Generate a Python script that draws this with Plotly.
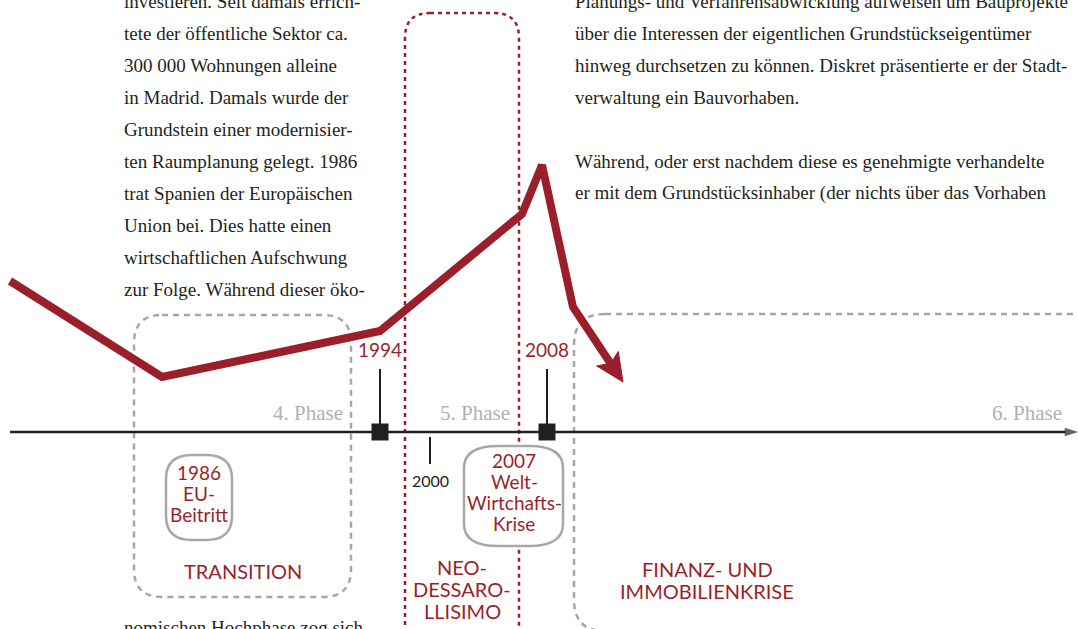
import math
import plotly.graph_objects as go

W, H = 1078, 629
RED = "#9b1f2a"
GREY = "#a7a7a9"
INK = "#231f20"
SERIF = "Liberation Serif"
SANS = "Lato"

# ---------------- data (page-like coordinates, y grows downward) ----------------
trend_x = [10, 162, 380, 522, 542, 573, 623]
trend_y = [281, 377, 331, 214, 165, 307, 382]
arrow_len = 28
arrow_half_width = 13

timeline_x = [10, 1078]
timeline_y = [432, 432]

event_years = ["1994", "2008"]
event_x = [380, 547]
event_label_y = [349, 349]
event_stem_top = [369, 369]

minor_years = ["2000"]
minor_x = [430]
minor_tick = [437, 464]
minor_label_y = [480]

phase_labels = ["4. Phase", "5. Phase", "6. Phase"]
phase_label_right = [345, 512, 1064]
phase_label_y = [413, 413, 413]

# dashed phase frames: x0, y0, x1, y1, radius
grey_frames = [(134, 315, 351, 597, 28), (574, 314, 1120, 631, 31)]
red_frame = (405, 13, 519, 720, 25)
pills = [(166, 455, 232, 540, 26, 24), (464, 446, 563, 546, 34, 22)]

pill_lines = [["1986", "EU-", "Beitritt"], ["2007", "Welt-", "Wirtchafts-", "Krise"]]
pill_text_x = [199, 514]
pill_first_y = [472, 460]
pill_spacing = 21.3

era_lines = [["TRANSITION"], ["NEO-", "DESSARO-", "LLISIMO"], ["FINANZ- UND", "IMMOBILIENKRISE"]]
era_x = [243, 462, 707]
era_first_y = [571, 567, 569]
era_spacing = 22

left_lines = [
    "investieren. Seit damals errich-",
    "tete der öffentliche Sektor ca.",
    "300 000 Wohnungen alleine",
    "in Madrid. Damals wurde der",
    "Grundstein einer modernisier-",
    "ten Raumplanung gelegt. 1986",
    "trat Spanien der Europäischen",
    "Union bei. Dies hatte einen",
    "wirtschaftlichen Aufschwung",
    "zur Folge. Während dieser öko-",
]
left_x = 122
left_y = [1, 33, 65, 97, 129, 161, 193, 225, 257, 289]
left_bottom_line = "nomischen Hochphase zog sich"
left_bottom_top = 615

right_lines = [
    "Planungs- und Verfahrensabwicklung aufweisen um Bauprojekte",
    "über die Interessen der eigentlichen Grundstückseigentümer",
    "hinweg durchsetzen zu können. Diskret präsentierte er der Stadt-",
    "verwaltung ein Bauvorhaben.",
    "Während, oder erst nachdem diese es genehmigte verhandelte",
    "er mit dem Grundstücksinhaber (der nichts über das Vorhaben",
]
right_x = 573
right_y = [1, 33, 65, 97, 161, 193]


def rrect(x0, y0, x1, y1, rx, ry=None):
    ry = rx if ry is None else ry
    return (f"M{x0+rx},{y0} L{x1-rx},{y0} Q{x1},{y0} {x1},{y0+ry} "
            f"L{x1},{y1-ry} Q{x1},{y1} {x1-rx},{y1} L{x0+rx},{y1} "
            f"Q{x0},{y1} {x0},{y1-ry} L{x0},{y0+ry} Q{x0},{y0} {x0+rx},{y0} Z")


fig = go.Figure()

shapes = []
for (x0, y0, x1, y1, r) in grey_frames:
    shapes.append(dict(type="path", path=rrect(x0, y0, x1, y1, r), xref="x", yref="y",
                       line=dict(color=GREY, width=2.5, dash="6px,5px"), layer="below"))
x0, y0, x1, y1, r = red_frame
shapes.append(dict(type="path", path=rrect(x0, y0, x1, y1, r), xref="x", yref="y",
                   line=dict(color=RED, width=2.5, dash="4px,4px"), layer="below"))
for (x0, y0, x1, y1, rx, ry) in pills:
    shapes.append(dict(type="path", path=rrect(x0, y0, x1, y1, rx, ry), xref="x", yref="y",
                       fillcolor="white", line=dict(color=GREY, width=2.5), layer="below"))

# timeline axis with arrow head
fig.add_trace(go.Scatter(
    x=timeline_x, y=timeline_y, mode="lines+markers",
    line=dict(color=INK, width=2.5),
    marker=dict(symbol=["circle", "arrow"], size=[0, 14], color=INK, angleref="previous",
                line=dict(width=0)),
    hoverinfo="skip"))

# event stems and squares
for ex, top in zip(event_x, event_stem_top):
    fig.add_trace(go.Scatter(x=[ex, ex], y=[top, timeline_y[0]], mode="lines",
                             line=dict(color=INK, width=2), hoverinfo="skip"))
fig.add_trace(go.Scatter(x=event_x, y=[timeline_y[0]] * len(event_x), mode="markers",
                         marker=dict(symbol="square", size=17, color=INK), hoverinfo="skip"))
for mx in minor_x:
    fig.add_trace(go.Scatter(x=[mx, mx], y=minor_tick, mode="lines",
                             line=dict(color=INK, width=2), hoverinfo="skip"))

# trend line, ending in an arrow head derived from the last segment
tx, ty = trend_x[-1], trend_y[-1]
dx, dy = tx - trend_x[-2], ty - trend_y[-2]
L = math.hypot(dx, dy)
ux, uy = dx / L, dy / L
nx, ny = -uy, ux
bx, by = tx - arrow_len * ux, ty - arrow_len * uy
notch_x, notch_y = tx - 0.8 * arrow_len * ux, ty - 0.8 * arrow_len * uy
line_end_x, line_end_y = tx - 0.7 * arrow_len * ux, ty - 0.7 * arrow_len * uy

fig.add_trace(go.Scatter(
    x=trend_x[:-1] + [line_end_x], y=trend_y[:-1] + [line_end_y], mode="lines",
    line=dict(color=RED, width=8), hoverinfo="skip"))
fig.add_trace(go.Scatter(
    x=[tx, bx + arrow_half_width * nx, notch_x, bx - arrow_half_width * nx, tx],
    y=[ty, by + arrow_half_width * ny, notch_y, by - arrow_half_width * ny, ty],
    mode="lines", fill="toself", fillcolor=RED, line=dict(color=RED, width=1),
    hoverinfo="skip"))

ann = []
def text(x, y, t, family, size, color, xanchor="left", yanchor="middle"):
    ann.append(dict(x=x, y=y, text=t, xanchor=xanchor, yanchor=yanchor,
                    font=dict(family=family, size=size, color=color)))

for t, y in zip(left_lines, left_y):
    text(left_x, y, t, SERIF, 19, INK)
text(left_x, left_bottom_top, left_bottom_line, SERIF, 19, INK, "left", "top")
for t, y in zip(right_lines, right_y):
    text(right_x, y, t, SERIF, 19, INK)
for t, xr, y in zip(phase_labels, phase_label_right, phase_label_y):
    text(xr, y, t, SERIF, 21, "#b0b0b2", "right")
for t, ex, y in zip(event_years, event_x, event_label_y):
    text(ex, y, t, SANS, 19, RED, "center")
for t, mx, y in zip(minor_years, minor_x, minor_label_y):
    text(mx, y, t, SANS, 16, INK, "center")
for lines, px, py in zip(pill_lines, pill_text_x, pill_first_y):
    for i, t in enumerate(lines):
        text(px, py + i * pill_spacing, t, SANS, 19, RED, "center")
for lines, px, py in zip(era_lines, era_x, era_first_y):
    for i, t in enumerate(lines):
        text(px, py + i * era_spacing, t, SANS, 20, RED, "center")
for a in ann:
    a.update(showarrow=False, xref="x", yref="y")

fig.update_layout(
    width=W, height=H, margin=dict(l=0, r=0, t=0, b=0),
    paper_bgcolor="white", plot_bgcolor="white", showlegend=False,
    xaxis=dict(range=[0, W], visible=False, fixedrange=True),
    yaxis=dict(range=[H, 0], visible=False, fixedrange=True),
    shapes=shapes, annotations=ann,
)

fig.write_html("out.html", config={"displayModeBar": False},
               post_script="document.body.style.margin='0';")
